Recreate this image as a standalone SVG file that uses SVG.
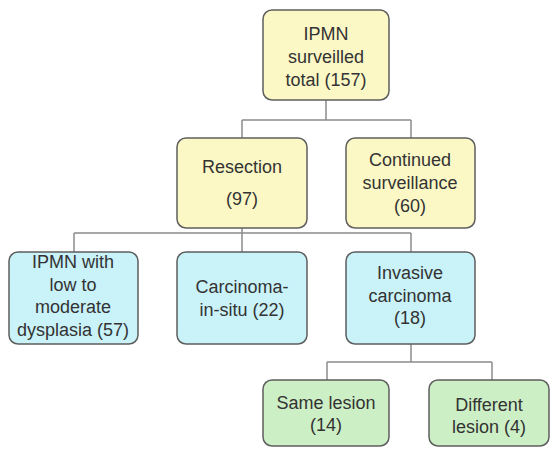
<svg xmlns="http://www.w3.org/2000/svg" width="552" height="452" viewBox="0 0 552 452">
<style>
.box{stroke:#5e5e5e;stroke-width:1.5}
.y{fill:#fbf8c6}
.b{fill:#c9f2f9}
.g{fill:#cdefc6}
.t{font-family:"Liberation Sans",Arial,sans-serif;font-size:18px;fill:#333;text-anchor:middle}
.c{fill:none;stroke:#8c8c8c;stroke-width:1.5}
</style>
<rect width="552" height="452" fill="#fff"/>
<g id="connectors">
<path class="c" d="M326 100V120M242 120H411M242 120V138M411 120V138"/>
<path class="c" d="M242 228V233M74 233H411M74 233V252M242 233V252M411 233V252"/>
<path class="c" d="M411 344V362M327 362H492M327 362V380M492 362V380"/>
</g>
<g id="n_total">
<rect class="box y" x="263" y="10" width="126" height="90" rx="9"/>
<text class="t" x="326" y="40">IPMN</text>
<text class="t" x="326" y="63">surveilled</text>
<text class="t" x="326" y="86">total (157)</text>
</g>
<g id="n_resection">
<rect class="box y" x="177" y="138" width="130" height="90" rx="9"/>
<text class="t" x="242" y="173">Resection</text>
<text class="t" x="242" y="205">(97)</text>
</g>
<g id="n_continued">
<rect class="box y" x="346" y="138" width="129" height="90" rx="9"/>
<text class="t" x="410" y="166">Continued</text>
<text class="t" x="410" y="189">surveillance</text>
<text class="t" x="410" y="212">(60)</text>
</g>
<g id="n_low">
<rect class="box b" x="9" y="252" width="129" height="92" rx="9"/>
<text class="t" x="73" y="268">IPMN with</text>
<text class="t" x="73" y="291">low to</text>
<text class="t" x="73" y="313">moderate</text>
<text class="t" x="73" y="336">dysplasia (57)</text>
</g>
<g id="n_cis">
<rect class="box b" x="177" y="252" width="130" height="92" rx="9"/>
<text class="t" x="242" y="293">Carcinoma-</text>
<text class="t" x="242" y="316">in-situ (22)</text>
</g>
<g id="n_invasive">
<rect class="box b" x="346" y="252" width="129" height="92" rx="9"/>
<text class="t" x="410" y="279">Invasive</text>
<text class="t" x="410" y="302">carcinoma</text>
<text class="t" x="410" y="324">(18)</text>
</g>
<g id="n_same">
<rect class="box g" x="263" y="380" width="126" height="66" rx="9"/>
<text class="t" x="326" y="409">Same lesion</text>
<text class="t" x="326" y="431">(14)</text>
</g>
<g id="n_diff">
<rect class="box g" x="429" y="380" width="120" height="66" rx="9"/>
<text class="t" x="489" y="411">Different</text>
<text class="t" x="489" y="433">lesion (4)</text>
</g>
</svg>
